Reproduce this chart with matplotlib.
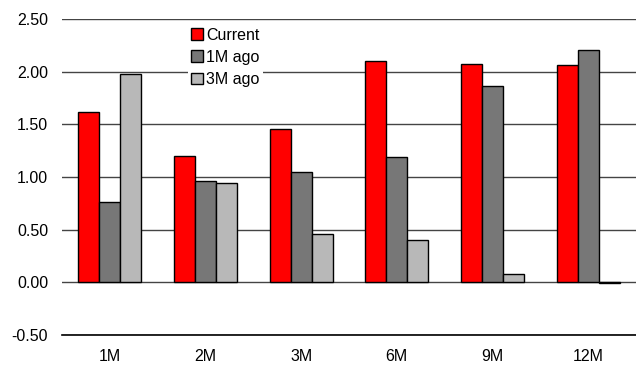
import numpy as np
import matplotlib.pyplot as plt

plt.rcParams['font.family'] = ['Liberation Sans', 'DejaVu Sans']

categories = ['1M', '2M', '3M', '6M', '9M', '12M']
current = [1.62, 1.20, 1.46, 2.10, 2.07, 2.06]
ago_1m = [0.76, 0.96, 1.05, 1.19, 1.86, 2.21]
ago_3m = [1.98, 0.94, 0.46, 0.40, 0.08, -0.01]
series_names = ['Current', '1M ago', '3M ago']
colors = ['#ff0000', '#777777', '#b8b8b8']

fig = plt.figure(figsize=(6.36, 3.65), dpi=100)
ax = fig.add_axes([0.0975, 0.082, 0.9025, 0.866])

x = np.arange(len(categories))
w = 0.22
for i, (vals, name, c) in enumerate(zip([current, ago_1m, ago_3m], series_names, colors)):
    ax.bar(x + (i - 1) * w, vals, w, color=c, edgecolor='black', linewidth=1,
           label=name, zorder=3)

ax.set_xlim(-0.5, len(categories) - 0.5)
ax.set_ylim(-0.5, 2.5)
ax.set_yticks(np.arange(-0.5, 2.51, 0.5))
ax.set_yticklabels([f'{v:.2f}' for v in np.arange(-0.5, 2.51, 0.5)])
ax.set_xticks(x)
ax.set_xticklabels(categories)
ax.tick_params(length=0, labelsize=11.5, pad=10)
ax.tick_params(axis='x', pad=10)
ax.yaxis.grid(True, color='#444444', linewidth=1, zorder=0)
for s in ['top', 'right', 'left']:
    ax.spines[s].set_visible(False)
ax.spines['bottom'].set_position(('data', -0.5))
ax.spines['bottom'].set_linewidth(1.2)

leg = ax.legend(loc='upper left', bbox_to_anchor=(0.283, 0.955), bbox_transform=fig.transFigure,
                frameon=True, fontsize=11.5, handlelength=0.75, handleheight=0.75,
                handletextpad=0.2, labelspacing=0.45, borderpad=0.2)
leg.get_frame().set_edgecolor('none')
leg.get_frame().set_facecolor('white')
leg.get_frame().set_alpha(1)
leg.set_zorder(5)

fig.savefig('out.png', dpi=100)
